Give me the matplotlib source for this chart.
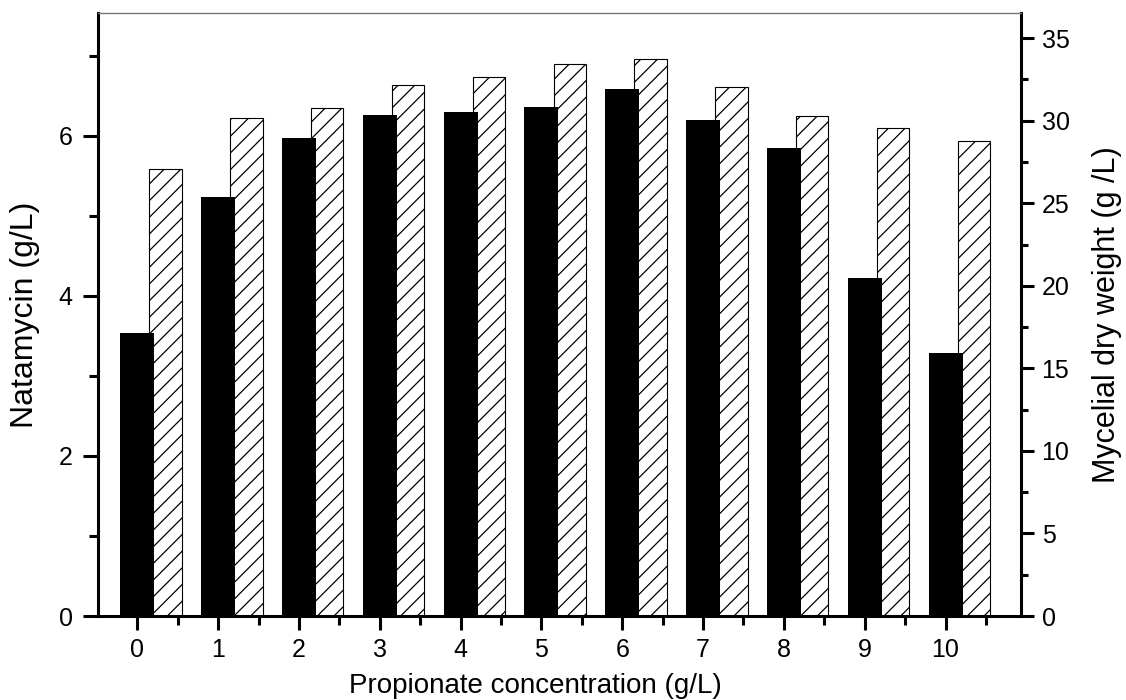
import numpy as np
import matplotlib
matplotlib.use("Agg")
import matplotlib.pyplot as plt
from matplotlib.ticker import MultipleLocator, FixedLocator

plt.rcParams['font.family'] = ['Liberation Sans', 'DejaVu Sans']
plt.rcParams['hatch.linewidth'] = 0.9

# propionate concentration (g/L)
conc = [0, 1, 2, 3, 4, 5, 6, 7, 8, 9, 10]
# natamycin (g/L), left axis
natamycin = [3.54, 5.23, 5.97, 6.26, 6.30, 6.36, 6.58, 6.20, 5.85, 4.22, 3.29]
# mycelial dry weight (g/L), right axis
dcw = [27.06, 30.17, 30.80, 32.19, 32.65, 33.44, 33.75, 32.03, 30.31, 29.55, 28.78]

W, H = 1126, 700
fig = plt.figure(figsize=(W / 100, H / 100), dpi=100)
# axes box in pixels: left 97.7, right 1020.7, top 13.3, bottom 616
ax = fig.add_axes([97.7 / W, 1 - 616 / H, (1020.7 - 97.7) / W, (616 - 13.3) / H])
ax2 = ax.twinx()
# black bars on top of hatched ones
ax.set_zorder(ax2.get_zorder() + 1)
ax.patch.set_visible(False)

x = np.array(conc)
ax2.bar(x + 0.35, dcw, width=0.40, facecolor='white', edgecolor='black',
        linewidth=0.8, hatch='//')
ax.bar(x, natamycin, width=0.42, color='black', edgecolor='black', linewidth=0)

ax.set_xlim(-0.49, 10.93)
ax.set_ylim(0, 7.53)
ax2.set_ylim(0, 36.51)

ax.set_xticks(conc)
ax.xaxis.set_minor_locator(FixedLocator(np.arange(-0.5, 11, 1)))
ax.yaxis.set_major_locator(MultipleLocator(2))
ax.yaxis.set_minor_locator(MultipleLocator(1))
ax2.yaxis.set_major_locator(MultipleLocator(5))
ax2.yaxis.set_minor_locator(MultipleLocator(2.5))

lw = 2.2
for s in ['left', 'bottom']:
    ax.spines[s].set_linewidth(lw)
ax.spines['right'].set_visible(False)
ax.spines['top'].set_color('#777777')
ax.spines['top'].set_linewidth(1.0)
ax2.spines['right'].set_linewidth(lw)
for s in ['left', 'bottom', 'top']:
    ax2.spines[s].set_visible(False)

ax.tick_params(axis='y', which='major', direction='out', length=11, width=lw,
               labelsize=18, pad=7)
ax.tick_params(axis='y', which='minor', direction='out', length=6.5, width=lw)
ax.tick_params(axis='x', which='major', direction='out', length=10, width=lw,
               labelsize=18, pad=6)
ax.tick_params(axis='x', which='minor', direction='out', length=6.5, width=lw)
ax2.tick_params(axis='y', which='major', direction='out', length=9, width=lw,
                labelsize=18, pad=6)
ax2.tick_params(axis='y', which='minor', direction='out', length=5, width=lw)

ax.set_ylabel('Natamycin (g/L)', fontsize=23)
ax.yaxis.set_label_coords((25 - 97.7) / 923, 0.5)
ax.yaxis.label.set_verticalalignment('center')

ax2.set_ylabel('Mycelial dry weight (g /L)', fontsize=22)
ax2.yaxis.set_label_coords((1107 - 97.7) / 923, 0.5)
ax2.yaxis.label.set_verticalalignment('center')

ax.set_xlabel('Propionate concentration (g/L)', fontsize=20)
ax.xaxis.set_label_coords((535 - 97.7) / 923, (616 - 686) / 602.7)
ax.xaxis.label.set_verticalalignment('center')

fig.savefig('out.png', dpi=100)
